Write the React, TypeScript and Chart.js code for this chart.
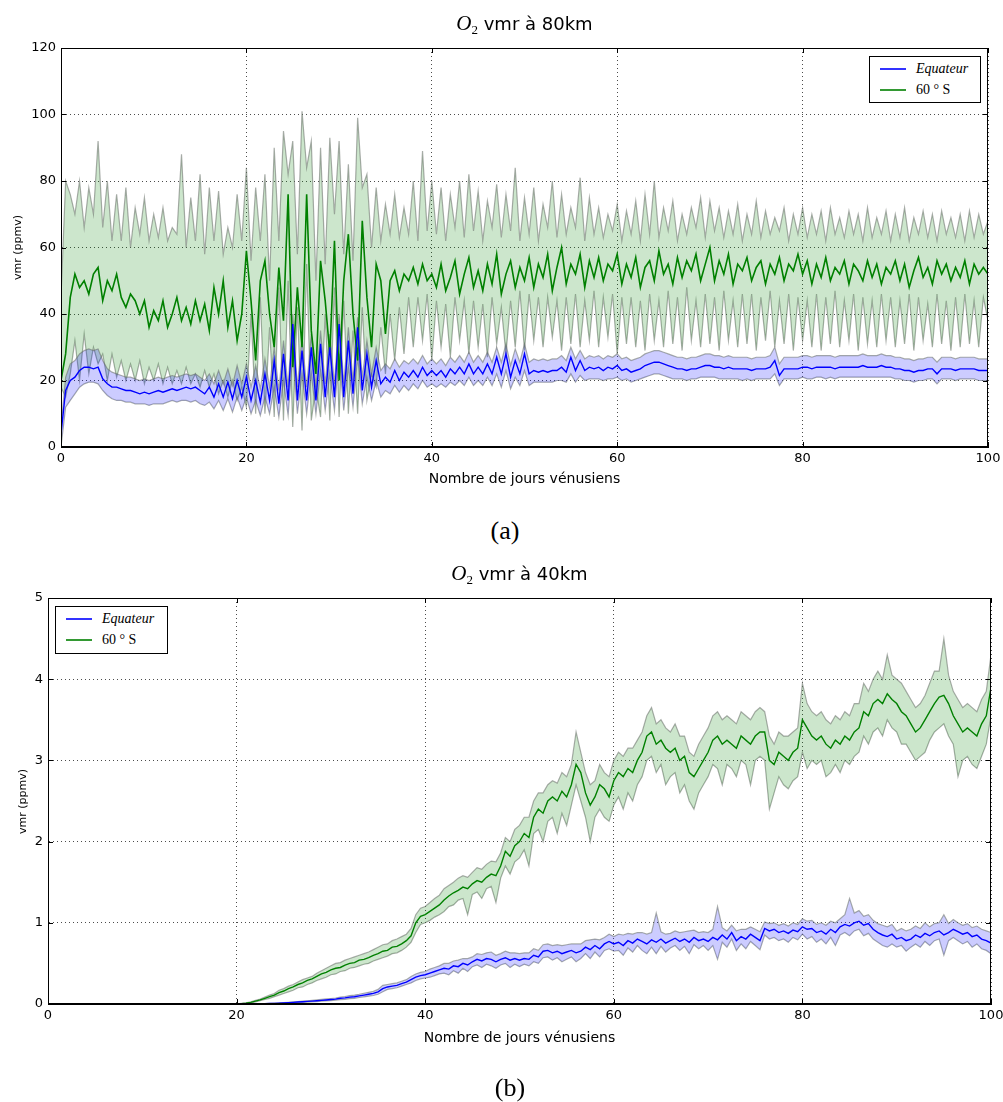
import React, { useEffect, useRef } from "react";
import { Chart, registerables } from "chart.js";

Chart.register(...registerables);
Chart.defaults.font.family = '"DejaVu Sans", sans-serif';

// ---------- data ----------
// x grid: simulation days, every half day from 0 to 100
const DAYS: number[] = Array.from({ length: 201 }, (_, i) => i * 0.5);
const X_TICKS = [0, 20, 40, 60, 80, 100];
const Y_TICKS_80 = [0, 20, 40, 60, 80, 100, 120];
const Y_TICKS_40 = [0, 1, 2, 3, 4, 5];
const SERIES_NAMES = ["Equateur", "60 ° S"];

// ---- O2 vmr at 80 km (ppmv) ----
const EQ80 = [
  4, 17, 20, 21, 23, 24, 24, 23.5, 24, 20.5, 19, 18, 18, 17.5, 17, 17, 16.5, 16, 16.5, 16,
  16.5, 17, 16.5, 17, 17.5, 17, 17.5, 18, 17.5, 18, 17, 16, 18, 15, 19, 15, 19.5, 14.5, 20, 15,
  21, 14, 20, 13.5, 22, 14, 26, 13, 28, 14, 37, 14, 29, 14, 30, 14, 31, 15, 30, 15,
  37, 15, 32, 16, 36, 17, 28, 18, 26, 19, 21, 19.5, 23, 20, 22.5, 21, 23, 21, 24, 21.5,
  23, 21.5, 23, 21, 23.5, 22, 24, 22, 25, 22, 24, 22, 25, 22, 27, 22, 28, 21, 26, 22,
  28, 22, 23, 22.5, 23, 22.5, 23, 23, 24, 22.5, 27, 23, 26, 23, 24, 23.5, 24, 23, 24, 23.5,
  24.5, 23, 23.5, 22.5, 23, 23.5, 24.5, 25, 25.5, 25.5, 25, 24.5, 24, 23.5, 23.5, 23, 23.5, 23.5, 24, 24.5,
  24.5, 24, 24, 23.5, 24, 23.5, 23.5, 23.5, 23.5, 23, 23.5, 23.5, 23.5, 24, 26, 21.5, 23.5, 23.5, 23.5, 23.5,
  24, 24, 23.5, 24, 24, 24, 24, 23.5, 24, 24, 24, 24, 24, 24.5, 24, 24, 24, 24.5, 24, 24,
  23.5, 23.5, 23, 23, 22.5, 23, 23, 23.5, 23.5, 22, 23.5, 23.5, 23.5, 23, 23.5, 23.5, 23.5, 23.5, 23, 23,
  23,
];
const EQ80_LO = [
  0, 12, 14, 16, 18, 19, 19.5, 19.5, 19, 17, 15.5, 14.5, 14, 14, 13.5, 13.5, 13, 13, 13, 12.5,
  13, 13, 13, 13.5, 14, 13.5, 14, 14, 13.5, 14, 13, 12.5, 13.5, 11.5, 14, 11, 14.5, 10.5, 15, 11,
  15, 10, 14, 9.5, 15, 10, 18, 9, 20, 9.5, 28, 10, 22, 10, 22, 10, 23, 11, 22, 11,
  28, 11, 24, 12, 27, 13, 21, 14, 20, 15, 17, 16, 18.5, 16.5, 18.5, 17, 19, 17.5, 20, 18,
  19, 18, 19, 18, 19.5, 18.5, 20, 18.5, 21, 18.5, 20, 18.5, 21, 18.5, 22, 18, 23, 17.5, 21, 18.5,
  23, 18.5, 19.5, 19.5, 19.5, 19.5, 19.5, 20, 20, 19.5, 22, 19.5, 21.5, 20, 20.5, 20.5, 20.5, 20, 20.5, 20.5,
  21, 20, 20.5, 19.5, 20, 20.5, 21, 21.5, 22, 22, 21.5, 21, 20.5, 20.5, 20.5, 20, 20.5, 20.5, 21, 21,
  21, 21, 20.5, 20.5, 20.5, 20.5, 20.5, 20, 20.5, 20, 20.5, 20.5, 20.5, 20.5, 22, 18.5, 20.5, 20.5, 20.5, 20.5,
  21, 20.5, 20.5, 21, 21, 20.5, 21, 20.5, 21, 21, 21, 21, 21, 21, 21, 21, 21, 21, 21, 21,
  20.5, 20.5, 20, 20, 19.5, 20, 20, 20.5, 20.5, 19, 20.5, 20.5, 20.5, 20, 20.5, 20.5, 20.5, 20.5, 20, 20,
  20,
];
const EQ80_HI = [
  6, 21, 25, 26, 28, 29, 29.5, 29, 29.5, 26, 23.5, 22.5, 22, 21.5, 21, 21, 20.5, 20, 20.5, 20,
  20.5, 21, 20.5, 21, 21.5, 21, 21.5, 22, 21.5, 22, 21, 20, 22, 19, 23, 19, 23.5, 18.5, 24.5, 19,
  25, 18, 24.5, 17.5, 26.5, 18, 30, 17, 32, 18, 40, 18, 33, 18, 34, 18, 35, 19, 34, 19,
  40, 19, 36, 20, 39, 21, 32, 22, 30, 23, 25, 23.5, 26.5, 24, 26, 25, 26.5, 25, 27.5, 25,
  26.5, 25, 26.5, 24.5, 27, 25.5, 27.5, 25.5, 28.5, 25.5, 27.5, 25.5, 28.5, 25.5, 30, 25.5, 31, 24.5, 29.5, 25.5,
  31, 25.5, 26.5, 26, 26.5, 26, 26.5, 26.5, 27.5, 26, 30, 26.5, 29, 26.5, 27.5, 27, 27.5, 26.5, 27.5, 27,
  28, 26.5, 27, 26, 26.5, 27, 28, 28.5, 29, 29, 28.5, 28, 27.5, 27, 27, 26.5, 27, 27, 27.5, 28,
  28, 27.5, 27.5, 27, 27.5, 27, 27, 27, 27, 26.5, 27, 27, 27, 27.5, 30, 25, 27, 27, 27, 27,
  27.5, 27.5, 27, 27.5, 27.5, 27.5, 27.5, 27, 27.5, 27.5, 27.5, 27.5, 27.5, 28, 27.5, 27.5, 27.5, 28, 27.5, 27.5,
  27, 27, 26.5, 26.5, 26, 26.5, 26.5, 27, 27, 25.5, 27, 27, 27, 26.5, 27, 27, 27, 27, 26.5, 26.5,
  26.5,
];
const S60_80 = [
  20, 28, 45, 52, 48, 50, 46, 52, 54, 44, 50, 47, 52, 45, 42, 46, 44, 40, 44, 36,
  41, 38, 44, 36, 40, 45, 38, 42, 37, 44, 38, 43, 35, 48, 40, 50, 36, 44, 32, 40,
  59, 44, 26, 50, 56, 40, 30, 54, 38, 76, 24, 48, 30, 76, 35, 22, 56, 44, 28, 62,
  20, 50, 64, 40, 26, 68, 45, 30, 55, 50, 34, 50, 53, 47, 52, 50, 54, 49, 55, 50,
  52, 48, 55, 47, 51, 56, 46, 52, 57, 48, 53, 47, 55, 49, 58, 46, 52, 56, 48, 54,
  50, 57, 48, 55, 51, 58, 47, 54, 60, 49, 55, 52, 58, 48, 56, 51, 57, 50, 55, 53,
  58, 49, 55, 51, 57, 48, 54, 56, 50, 59, 52, 55, 49, 57, 51, 56, 53, 58, 50, 55,
  60, 50, 56, 52, 58, 49, 55, 53, 57, 50, 54, 56, 49, 55, 52, 57, 50, 55, 53, 58,
  52, 56, 49, 55, 51, 57, 50, 54, 52, 56, 49, 55, 53, 50, 56, 51, 55, 49, 54, 52,
  56, 50, 55, 48, 53, 57, 51, 54, 49, 56, 52, 55, 50, 54, 51, 56, 49, 55, 52, 54,
  52,
];
const S60_80_LO = [
  18, 15, 22, 32, 20, 34, 22, 30, 25, 28, 20, 28, 21, 26, 20, 25, 20, 26, 19, 24,
  20, 25, 19, 24, 19, 23, 19, 24, 19, 22, 18, 23, 18, 22, 16, 20, 15, 20, 14, 18,
  12, 40, 10, 45, 10, 36, 9, 48, 8, 50, 6, 42, 5, 55, 8, 18, 9, 40, 8, 48,
  9, 44, 10, 35, 10, 42, 14, 22, 18, 36, 22, 40, 26, 42, 28, 45, 30, 45, 32, 46,
  26, 44, 30, 43, 27, 45, 32, 44, 28, 44, 30, 43, 27, 45, 31, 42, 28, 44, 30, 47,
  29, 46, 32, 45, 30, 45, 33, 44, 29, 45, 31, 46, 30, 44, 32, 47, 30, 45, 33, 46,
  28, 45, 31, 45, 30, 44, 29, 46, 32, 44, 30, 47, 31, 45, 29, 48, 32, 44, 30, 46,
  31, 45, 29, 47, 32, 44, 30, 46, 31, 46, 29, 45, 32, 47, 30, 44, 31, 46, 29, 45,
  32, 44, 30, 46, 29, 45, 31, 47, 30, 44, 32, 46, 29, 45, 31, 44, 30, 46, 32, 45,
  30, 44, 31, 46, 29, 45, 32, 43, 30, 46, 31, 44, 29, 45, 30, 46, 31, 44, 30, 45,
  38,
];
const S60_80_HI = [
  45, 80, 76, 70, 80, 66, 78, 70, 92, 66, 80, 62, 76, 62, 78, 60, 72, 64, 75, 62,
  70, 63, 72, 62, 66, 64, 88, 60, 75, 62, 82, 58, 78, 62, 77, 58, 66, 60, 76, 62,
  84, 56, 78, 62, 82, 50, 90, 62, 95, 82, 92, 58, 101, 84, 92, 50, 90, 55, 93, 70,
  92, 58, 85, 56, 99, 78, 82, 60, 78, 62, 73, 64, 76, 63, 72, 64, 80, 62, 89, 65,
  80, 64, 78, 62, 76, 66, 80, 63, 82, 65, 77, 62, 74, 66, 79, 63, 76, 65, 84, 62,
  75, 64, 78, 62, 73, 66, 80, 63, 76, 64, 72, 66, 81, 62, 75, 64, 72, 63, 70, 65,
  73, 62, 71, 64, 74, 62, 76, 64, 80, 63, 72, 65, 74, 62, 70, 64, 72, 66, 75, 63,
  74, 65, 72, 63, 71, 64, 73, 62, 70, 64, 74, 63, 71, 64, 69, 65, 72, 62, 70, 64,
  72, 63, 70, 64, 71, 62, 72, 64, 69, 63, 71, 64, 70, 62, 72, 63, 69, 64, 71, 62,
  70, 63, 72, 62, 69, 64, 71, 63, 70, 62, 71, 64, 69, 63, 70, 62, 71, 63, 70, 64,
  68,
];

// ---- O2 vmr at 40 km (ppmv) ----
const EQ40 = [
  0, 0, 0, 0, 0, 0, 0, 0, 0, 0, 0, 0, 0, 0, 0, 0, 0, 0, 0, 0,
  0, 0, 0, 0, 0, 0, 0, 0, 0, 0, 0, 0, 0, 0, 0, 0, 0, 0, 0, 0,
  0, 0, 0, 0, 0, 0.002, 0.004, 0.006, 0.008, 0.01, 0.013, 0.016, 0.02, 0.024, 0.028, 0.032, 0.036, 0.04, 0.045, 0.05,
  0.055, 0.06, 0.07, 0.075, 0.085, 0.09, 0.1, 0.11, 0.12, 0.13, 0.15, 0.19, 0.21, 0.22, 0.23, 0.25, 0.27, 0.3, 0.33, 0.35,
  0.36, 0.38, 0.4, 0.42, 0.44, 0.43, 0.47, 0.46, 0.5, 0.48, 0.52, 0.55, 0.53, 0.56, 0.55, 0.52, 0.55, 0.57, 0.54, 0.56,
  0.54, 0.56, 0.55, 0.6, 0.58, 0.65, 0.66, 0.63, 0.65, 0.62, 0.64, 0.66, 0.63, 0.65, 0.7, 0.67, 0.72, 0.68, 0.74, 0.77,
  0.74, 0.76, 0.72, 0.78, 0.75, 0.8, 0.77, 0.74, 0.79, 0.76, 0.8, 0.75, 0.78, 0.81, 0.77, 0.8, 0.76, 0.82, 0.78, 0.8,
  0.77, 0.82, 0.79, 0.85, 0.8, 0.88, 0.78, 0.83, 0.8, 0.86, 0.82, 0.78, 0.93, 0.9, 0.92, 0.88, 0.9, 0.87, 0.91, 0.89,
  0.95, 0.92, 0.93, 0.88, 0.9, 0.86, 0.92, 0.88, 0.95, 0.98, 0.96, 1.0, 1.02, 0.97, 0.99, 0.92, 0.88, 0.85, 0.83, 0.86,
  0.8, 0.82, 0.78, 0.8, 0.85, 0.82, 0.87, 0.84, 0.88, 0.9, 0.85, 0.88, 0.92, 0.89, 0.86, 0.88, 0.83, 0.85, 0.8, 0.78,
  0.75,
];
const EQ40_LO = [
  0, 0, 0, 0, 0, 0, 0, 0, 0, 0, 0, 0, 0, 0, 0, 0, 0, 0, 0, 0,
  0, 0, 0, 0, 0, 0, 0, 0, 0, 0, 0, 0, 0, 0, 0, 0, 0, 0, 0, 0,
  0, 0, 0, 0, 0, 0.001, 0.002, 0.004, 0.005, 0.007, 0.009, 0.011, 0.014, 0.017, 0.02, 0.024, 0.027, 0.03, 0.034, 0.038,
  0.042, 0.046, 0.054, 0.058, 0.066, 0.07, 0.08, 0.088, 0.096, 0.105, 0.12, 0.15, 0.18, 0.19, 0.2, 0.22, 0.24, 0.26, 0.29, 0.31,
  0.32, 0.33, 0.35, 0.37, 0.38, 0.36, 0.41, 0.38, 0.44, 0.4, 0.46, 0.48, 0.45, 0.49, 0.47, 0.44, 0.48, 0.5, 0.45, 0.49,
  0.46, 0.49, 0.47, 0.52, 0.5, 0.57, 0.58, 0.54, 0.57, 0.52, 0.55, 0.58, 0.52, 0.56, 0.62, 0.56, 0.64, 0.58, 0.66, 0.68,
  0.65, 0.66, 0.6, 0.69, 0.64, 0.72, 0.66, 0.62, 0.7, 0.62, 0.71, 0.64, 0.69, 0.72, 0.66, 0.71, 0.62, 0.73, 0.68, 0.72,
  0.66, 0.72, 0.55, 0.76, 0.7, 0.8, 0.66, 0.74, 0.68, 0.77, 0.72, 0.67, 0.85, 0.8, 0.82, 0.78, 0.8, 0.76, 0.82, 0.79,
  0.86, 0.8, 0.83, 0.76, 0.8, 0.74, 0.82, 0.72, 0.85, 0.88, 0.84, 0.9, 0.92, 0.84, 0.87, 0.8, 0.76, 0.72, 0.7, 0.74,
  0.7, 0.72, 0.65, 0.7, 0.74, 0.7, 0.77, 0.72, 0.78, 0.8, 0.6, 0.78, 0.82, 0.78, 0.74, 0.77, 0.7, 0.74, 0.68, 0.66,
  0.62,
];
const EQ40_HI = [
  0, 0, 0, 0, 0, 0, 0, 0, 0, 0, 0, 0, 0, 0, 0, 0, 0, 0, 0, 0,
  0, 0, 0, 0, 0, 0, 0, 0, 0, 0, 0, 0, 0, 0, 0, 0, 0, 0, 0, 0,
  0, 0, 0, 0, 0, 0.003, 0.006, 0.008, 0.011, 0.013, 0.017, 0.021, 0.026, 0.031, 0.036, 0.04, 0.045, 0.05, 0.056, 0.062,
  0.068, 0.074, 0.086, 0.092, 0.104, 0.11, 0.12, 0.132, 0.144, 0.155, 0.18, 0.23, 0.24, 0.25, 0.26, 0.28, 0.3, 0.34, 0.37, 0.39,
  0.4, 0.43, 0.45, 0.47, 0.5, 0.5, 0.53, 0.54, 0.56, 0.56, 0.58, 0.62, 0.61, 0.63, 0.64, 0.6, 0.62, 0.65, 0.63, 0.63,
  0.62, 0.63, 0.63, 0.68, 0.66, 0.73, 0.74, 0.72, 0.73, 0.72, 0.73, 0.74, 0.74, 0.74, 0.78, 0.79, 0.8, 0.79, 0.82, 0.86,
  0.83, 0.86, 0.85, 0.87, 0.86, 0.88, 0.88, 0.86, 0.88, 1.12, 0.89, 0.86, 0.87, 0.9, 0.88, 0.89, 0.9, 0.91, 0.88, 0.89,
  0.88, 0.92, 1.2, 0.94, 0.9, 0.97, 0.9, 0.92, 0.92, 0.95, 0.92, 0.89, 1.01, 0.99, 1.0, 0.97, 0.99, 0.96, 1.0, 0.98,
  1.05, 1.02, 1.03, 0.98, 1.0, 0.97, 1.02, 1.0, 1.05, 1.1, 1.3, 1.12, 1.15, 1.08, 1.1, 1.03, 0.99, 0.97, 0.95, 0.98,
  0.9, 0.93, 0.9, 0.92, 0.96, 0.93, 1.0, 0.95, 0.99, 1.0, 1.1, 0.99, 1.04, 1.0, 0.97, 0.99, 0.94, 0.96, 0.92, 0.9,
  0.88,
];
const S60_40 = [
  0, 0, 0, 0, 0, 0, 0, 0, 0, 0, 0, 0, 0, 0, 0, 0, 0, 0, 0, 0,
  0, 0, 0, 0, 0, 0, 0, 0, 0, 0, 0, 0, 0, 0, 0, 0, 0, 0, 0, 0,
  0, 0.005, 0.01, 0.02, 0.035, 0.05, 0.07, 0.09, 0.11, 0.14, 0.16, 0.19, 0.21, 0.24, 0.26, 0.29, 0.31, 0.34, 0.37, 0.39,
  0.42, 0.44, 0.45, 0.48, 0.5, 0.51, 0.54, 0.55, 0.57, 0.6, 0.62, 0.65, 0.66, 0.7, 0.71, 0.74, 0.78, 0.84, 1.0, 1.08,
  1.1, 1.14, 1.18, 1.22, 1.28, 1.33, 1.37, 1.4, 1.44, 1.42, 1.48, 1.52, 1.5, 1.56, 1.6, 1.58, 1.7, 1.88, 1.82, 1.95,
  2.0, 2.1, 2.05, 2.3, 2.4, 2.35, 2.5, 2.55, 2.5, 2.62, 2.55, 2.7, 2.95, 2.85, 2.6, 2.45, 2.55, 2.7, 2.65, 2.55,
  2.75, 2.85, 2.8, 2.9, 2.85, 3.0, 3.1, 3.3, 3.35, 3.2, 3.25, 3.15, 3.1, 3.15, 3.0, 3.05, 2.85, 2.8, 2.9, 3.0,
  3.1, 3.25, 3.3, 3.2, 3.25, 3.2, 3.15, 3.3, 3.25, 3.2, 3.3, 3.35, 3.35, 3.0, 2.95, 3.1, 3.05, 3.0, 3.1, 3.15,
  3.5, 3.4, 3.3, 3.25, 3.3, 3.2, 3.15, 3.25, 3.2, 3.3, 3.25, 3.35, 3.4, 3.6, 3.55, 3.7, 3.75, 3.7, 3.82, 3.75,
  3.7, 3.6, 3.55, 3.45, 3.35, 3.4, 3.5, 3.6, 3.7, 3.78, 3.8, 3.7, 3.55, 3.45, 3.35, 3.4, 3.35, 3.3, 3.45, 3.55,
  3.9,
];
const S60_40_LO = [
  0, 0, 0, 0, 0, 0, 0, 0, 0, 0, 0, 0, 0, 0, 0, 0, 0, 0, 0, 0,
  0, 0, 0, 0, 0, 0, 0, 0, 0, 0, 0, 0, 0, 0, 0, 0, 0, 0, 0, 0,
  0, 0.003, 0.007, 0.015, 0.025, 0.04, 0.055, 0.07, 0.09, 0.11, 0.13, 0.15, 0.17, 0.2, 0.21, 0.24, 0.26, 0.29, 0.31, 0.33,
  0.36, 0.37, 0.4, 0.41, 0.44, 0.45, 0.47, 0.49, 0.5, 0.53, 0.55, 0.57, 0.59, 0.62, 0.63, 0.66, 0.7, 0.76, 0.88, 0.98,
  1.0, 1.03, 1.07, 1.1, 1.14, 1.2, 1.22, 1.28, 1.3, 1.1, 1.35, 1.38, 1.3, 1.42, 1.45, 1.25, 1.55, 1.7, 1.6, 1.75,
  1.8, 1.9, 1.7, 2.1, 2.15, 2.0, 2.25, 2.3, 2.1, 2.35, 2.2, 2.45, 2.7, 2.5, 2.3, 2.0, 2.3, 2.4, 2.3, 2.25,
  2.45, 2.55, 2.4, 2.6, 2.5, 2.7, 2.8, 3.0, 3.05, 2.85, 2.95, 2.7, 2.8, 2.85, 2.6, 2.7, 2.5, 2.4, 2.6, 2.7,
  2.8, 2.95, 2.9, 2.7, 2.95, 2.9, 2.8, 3.0, 2.95, 2.7, 3.0, 3.05, 3.0, 2.4, 2.6, 2.8, 2.7, 2.65, 2.75, 2.8,
  3.1, 2.9, 3.0, 2.95, 3.0, 2.8, 2.85, 2.95, 2.85, 3.0, 2.95, 3.05, 3.1, 3.3, 3.2, 3.35, 3.4, 3.3, 3.5, 3.4,
  3.35, 3.2, 3.2, 3.1, 3.0, 3.05, 3.1, 3.25, 3.35, 3.4, 3.45, 3.3, 3.2, 2.8, 3.0, 3.05, 2.95, 2.9, 3.05, 3.2,
  3.55,
];
const S60_40_HI = [
  0, 0, 0, 0, 0, 0, 0, 0, 0, 0, 0, 0, 0, 0, 0, 0, 0, 0, 0, 0,
  0, 0, 0, 0, 0, 0, 0, 0, 0, 0, 0, 0, 0, 0, 0, 0, 0, 0, 0, 0,
  0, 0.007, 0.014, 0.026, 0.045, 0.06, 0.085, 0.11, 0.13, 0.17, 0.19, 0.22, 0.24, 0.27, 0.3, 0.32, 0.34, 0.38, 0.41, 0.44,
  0.47, 0.5, 0.51, 0.54, 0.56, 0.58, 0.6, 0.62, 0.64, 0.67, 0.7, 0.73, 0.74, 0.78, 0.8, 0.83, 0.86, 0.93, 1.1, 1.18,
  1.2, 1.25, 1.3, 1.34, 1.42, 1.46, 1.5, 1.55, 1.58, 1.56, 1.62, 1.68, 1.66, 1.72, 1.76, 1.75, 1.86, 2.05, 2.0, 2.15,
  2.2, 2.3, 2.3, 2.5, 2.6, 2.6, 2.7, 2.75, 2.72, 2.85, 2.8, 2.95, 3.35, 3.1, 2.85, 2.7, 2.75, 2.95, 2.85, 2.8,
  3.0, 3.1, 3.05, 3.15, 3.15, 3.25, 3.35, 3.55, 3.65, 3.45, 3.5, 3.4, 3.35, 3.45, 3.3, 3.3, 3.1, 3.05, 3.2, 3.3,
  3.4, 3.55, 3.6, 3.5, 3.55, 3.5, 3.45, 3.6, 3.55, 3.5, 3.6, 3.65, 3.6, 3.3, 3.2, 3.35, 3.3, 3.3, 3.35, 3.4,
  3.95, 3.7, 3.6, 3.55, 3.6, 3.5, 3.45, 3.55, 3.5, 3.6, 3.55, 3.7, 3.7, 3.95, 3.85, 4.0, 4.1, 4.0, 4.3, 4.05,
  4.0, 3.95, 3.85, 3.75, 3.65, 3.7, 3.8, 3.95, 4.1, 4.1, 4.5, 4.05, 3.85, 3.75, 3.65, 3.7, 3.65, 3.6, 3.75, 3.85,
  4.3,
];

// ---------- styling ----------
const BLUE = "#0000ff";
const GREEN = "#008000";
const EDGE = "rgba(100,108,100,0.55)";
const GREEN_FILL = "rgba(0,128,0,0.2)";
const BLUE_FILL = "rgba(0,0,255,0.2)";
const CANVAS_W = 1012;

const pts = (ys: number[]) => ys.map((y, i) => ({ x: DAYS[i], y }));

const framePlugin = {
  id: "frameTicks",
  afterDraw(chart: any) {
    const { ctx, chartArea: a, scales } = chart;
    const L = 5;
    ctx.save();
    ctx.strokeStyle = "#000";
    ctx.lineWidth = 1;
    ctx.beginPath();
    scales.x.ticks.forEach((t: any) => {
      const px = Math.round(scales.x.getPixelForValue(t.value)) + 0.5;
      ctx.moveTo(px, a.bottom);
      ctx.lineTo(px, a.bottom - L);
      ctx.moveTo(px, a.top);
      ctx.lineTo(px, a.top + L);
    });
    scales.y.ticks.forEach((t: any) => {
      const py = Math.round(scales.y.getPixelForValue(t.value)) + 0.5;
      ctx.moveTo(a.left, py);
      ctx.lineTo(a.left + L, py);
      ctx.moveTo(a.right, py);
      ctx.lineTo(a.right - L, py);
    });
    ctx.stroke();
    ctx.strokeRect(
      Math.round(a.left) + 0.5,
      Math.round(a.top) + 0.5,
      Math.round(a.right - a.left) - 1,
      Math.round(a.bottom - a.top) - 1
    );
    ctx.restore();
  },
};

type Cfg = {
  eq: number[];
  eqLo: number[];
  eqHi: number[];
  s60: number[];
  s60Lo: number[];
  s60Hi: number[];
  yTicks: number[];
  padTop: number;
  padRight: number;
  yWidth: number;
  xHeight: number;
  meanWidth: number;
};

function makeConfig(c: Cfg): any {
  const line = (data: number[], color: string, width: number, order: number, extra: any = {}) => ({
    data: pts(data),
    borderColor: color,
    borderWidth: width,
    pointRadius: 0,
    tension: 0,
    fill: false,
    order,
    ...extra,
  });
  const yMax = c.yTicks[c.yTicks.length - 1];
  const yStep = c.yTicks[1] - c.yTicks[0];
  return {
    type: "line",
    data: {
      datasets: [
        line(c.s60Lo, EDGE, 1.2, 5),
        line(c.s60Hi, EDGE, 1.2, 4, { fill: "-1", backgroundColor: GREEN_FILL }),
        line(c.eqLo, EDGE, 1.2, 3),
        line(c.eqHi, EDGE, 1.2, 2, { fill: "-1", backgroundColor: BLUE_FILL }),
        line(c.s60, GREEN, c.meanWidth, 1, { label: SERIES_NAMES[1] }),
        line(c.eq, BLUE, 1.4, 0, { label: SERIES_NAMES[0] }),
      ],
    },
    options: {
      responsive: false,
      animation: false,
      events: [],
      layout: { padding: { top: c.padTop, right: c.padRight, left: 0, bottom: 0 } },
      plugins: { legend: { display: false }, title: { display: false }, tooltip: { enabled: false } },
      scales: {
        x: {
          type: "linear",
          min: X_TICKS[0],
          max: X_TICKS[X_TICKS.length - 1],
          afterFit: (s: any) => {
            s.height = c.xHeight;
          },
          afterBuildTicks: (s: any) => {
            s.ticks = X_TICKS.map((v) => ({ value: v }));
          },
          ticks: { color: "#000", font: { size: 13 }, padding: 4, maxRotation: 0 },
          grid: { color: "rgba(0,0,0,0.7)", lineWidth: 1, drawTicks: false },
          border: { display: true, color: "#000", width: 1, dash: [1, 3] },
        },
        y: {
          type: "linear",
          min: 0,
          max: yMax,
          afterFit: (s: any) => {
            s.width = c.yWidth;
          },
          ticks: { color: "#000", font: { size: 13 }, padding: 5, stepSize: yStep },
          grid: { color: "rgba(0,0,0,0.7)", lineWidth: 1, drawTicks: false },
          border: { display: true, color: "#000", width: 1, dash: [1, 3] },
        },
      },
    },
    plugins: [framePlugin],
  };
}

function ChartBox({ top, height, config }: { top: number; height: number; config: any }) {
  const ref = useRef<HTMLCanvasElement | null>(null);
  useEffect(() => {
    const chart = new Chart(ref.current as HTMLCanvasElement, config);
    return () => chart.destroy();
  }, []);
  return (
    <canvas
      ref={ref}
      width={CANVAS_W}
      height={height}
      style={{ position: "absolute", left: 0, top, width: CANVAS_W, height }}
    />
  );
}

const SERIF = '"Liberation Serif", "DejaVu Serif", serif';
const SANS = '"DejaVu Sans", sans-serif';

function Title({ left, width, top, km }: { left: number; width: number; top: number; km: string }) {
  return (
    <div
      style={{
        position: "absolute",
        left,
        width,
        top,
        textAlign: "center",
        fontFamily: SANS,
        fontSize: 18,
        lineHeight: "22px",
        whiteSpace: "nowrap",
      }}
    >
      <span style={{ fontFamily: SERIF, fontStyle: "italic", fontSize: 21 }}>O</span>
      <span style={{ fontFamily: SERIF, fontSize: 13, position: "relative", top: 4 }}>2</span>
      {" vmr à " + km}
    </div>
  );
}

function Label({ cx, cy, text, size, rotate, font }: { cx: number; cy: number; text: string; size: number; rotate?: boolean; font?: string }) {
  const w = 300;
  return (
    <div
      style={{
        position: "absolute",
        left: cx - w / 2,
        top: cy - size / 2,
        width: w,
        height: size,
        lineHeight: size + "px",
        fontSize: size,
        fontFamily: font || SANS,
        textAlign: "center",
        whiteSpace: "nowrap",
        transform: rotate ? "rotate(-90deg)" : undefined,
      }}
    >
      {text}
    </div>
  );
}

function Legend({ left, top, width, height }: { left: number; top: number; width: number; height: number }) {
  const item = (y: number, color: string, text: string, italic: boolean) => (
    <>
      <div style={{ position: "absolute", left: 10, top: y - 1, width: 26, height: 2, background: color, opacity: 0.8 }} />
      <div
        style={{
          position: "absolute",
          left: 46,
          top: y - 8,
          fontFamily: SERIF,
          fontStyle: italic ? "italic" : "normal",
          fontSize: 14,
          lineHeight: "16px",
          whiteSpace: "nowrap",
        }}
      >
        {text}
      </div>
    </>
  );
  return (
    <div
      style={{
        position: "absolute",
        left,
        top,
        width,
        height,
        border: "1px solid #000",
        boxSizing: "border-box",
        background: "#fff",
      }}
    >
      {item(12, BLUE, SERIES_NAMES[0], true)}
      {item(33, GREEN, SERIES_NAMES[1], false)}
    </div>
  );
}

const TOP_CFG = makeConfig({
  eq: EQ80,
  eqLo: EQ80_LO,
  eqHi: EQ80_HI,
  s60: S60_80,
  s60Lo: S60_80_LO,
  s60Hi: S60_80_HI,
  yTicks: Y_TICKS_80,
  padTop: 48,
  padRight: CANVAS_W - 988,
  yWidth: 61,
  xHeight: 53,
  meanWidth: 1.6,
});

const BOTTOM_CFG = makeConfig({
  eq: EQ40,
  eqLo: EQ40_LO,
  eqHi: EQ40_HI,
  s60: S60_40,
  s60Lo: S60_40_LO,
  s60Hi: S60_40_HI,
  yTicks: Y_TICKS_40,
  padTop: 38,
  padRight: CANVAS_W - 991,
  yWidth: 48,
  xHeight: 56,
  meanWidth: 1.4,
});

export default function App() {
  return (
    <div style={{ position: "absolute", left: 0, top: 0, width: 1003, height: 1102, background: "#fff", overflow: "hidden" }}>
      <ChartBox top={0} height={500} config={TOP_CFG} />
      <ChartBox top={560} height={500} config={BOTTOM_CFG} />

      <Title left={61} width={927} top={12} km="80km" />
      <Label cx={524.5} cy={478} text="Nombre de jours vénusiens" size={14} />
      <Label cx={17} cy={247} text="vmr (ppmv)" size={11} rotate />
      <Legend left={869} top={56} width={112} height={47} />
      <Label cx={505} cy={531} text="(a)" size={26} font={SERIF} />

      <Title left={48} width={943} top={562} km="40km" />
      <Label cx={519.5} cy={1037} text="Nombre de jours vénusiens" size={14} />
      <Label cx={22} cy={801} text="vmr (ppmv)" size={11} rotate />
      <Legend left={55} top={606} width={113} height={48} />
      <Label cx={510} cy={1088} text="(b)" size={26} font={SERIF} />
    </div>
  );
}
